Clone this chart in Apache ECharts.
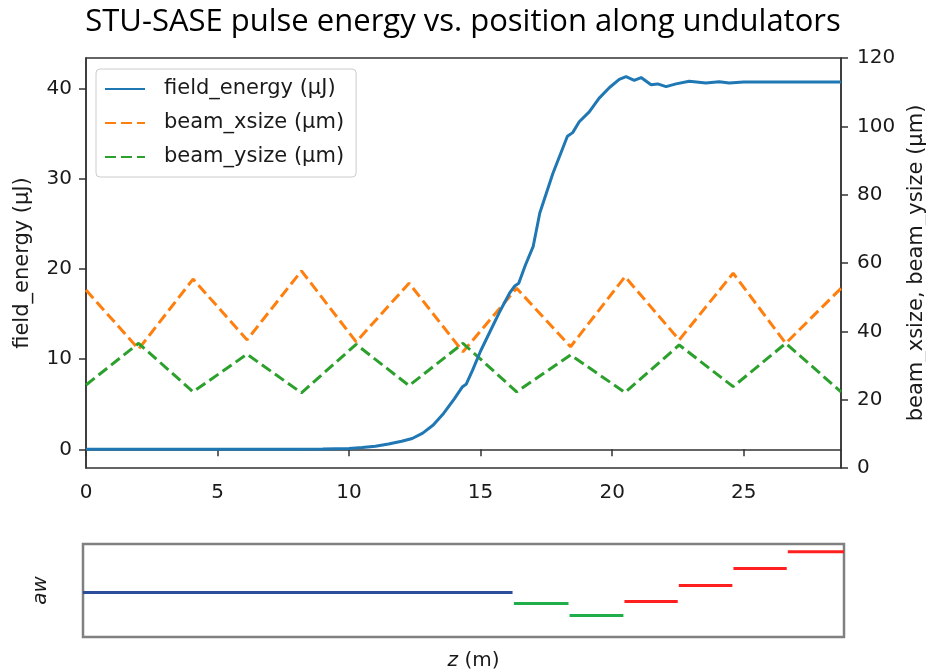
<!DOCTYPE html>
<html>
<head>
<meta charset="utf-8">
<script src="https://cdn.jsdelivr.net/npm/echarts@6/dist/echarts.min.js"></script>
<style>
  html, body { margin: 0; padding: 0; background: #ffffff; }
  #chart { width: 926px; height: 672px; }
</style>
</head>
<body>
<div id="chart"></div>
<script>
// Pulse energy along the undulator line (z in m, energy in µJ)
const energyZ = [0, 2, 4, 6, 8, 9, 10, 10.5, 11, 11.5, 12, 12.4, 12.8, 13.2, 13.6, 14.0, 14.3, 14.45,
  14.7, 15.0, 15.35, 15.7, 16.1, 16.3, 16.45, 16.7, 17.0, 17.25, 17.75, 18.3, 18.5, 18.75, 19.13,
  19.5, 19.9, 20.27, 20.53, 20.84, 21.1, 21.48, 21.73, 22.05, 22.43, 22.93, 23.56, 24.07, 24.45,
  25.0, 26.0, 27.0, 28.7];
const fieldEnergy = [0, 0, 0, 0, 0.01, 0.03, 0.1, 0.2, 0.35, 0.6, 0.9, 1.2, 1.8, 2.7, 4.0, 5.6, 6.9, 7.2,
  8.8, 10.9, 13.0, 15.1, 17.3, 18.1, 18.4, 20.4, 22.5, 26.2, 30.6, 34.7, 35.1, 36.3, 37.4,
  38.9, 40.1, 41.0, 41.3, 40.9, 41.2, 40.4, 40.5, 40.2, 40.5, 40.8, 40.6, 40.75, 40.6,
  40.7, 40.7, 40.7, 40.7];

// Beam sizes at the quadrupole positions (µm)
const quadZ = [0, 2.0, 4.07, 6.12, 8.19, 10.27, 12.28, 14.33, 16.37, 18.42, 20.49, 22.55, 24.6, 26.6, 28.7];
const beamXsize = [52.1, 34.8, 55.3, 37.5, 57.7, 36.9, 54.1, 34.0, 52.6, 35.5, 56.0, 37.5, 57.0, 36.5, 52.6];
const beamYsize = [24.3, 36.5, 22.3, 33.3, 22.0, 36.2, 24.1, 36.5, 22.3, 33.1, 22.1, 36.0, 23.8, 36.5, 22.3];

// Undulator parameter aw per section
const awStart = [0, 16.25, 18.35, 20.42, 22.47, 24.53, 26.58];
const awEnd = [16.2, 18.31, 20.38, 22.43, 24.49, 26.54, 28.7];
const awValue = [1.0, 0.989, 0.977, 0.991, 1.007, 1.024, 1.041];
const awKind = ['blue', 'green', 'green', 'red', 'red', 'red', 'red'];

// Axis ticks
const zTicks = [0, 5, 10, 15, 20, 25];
const energyTicks = [0, 10, 20, 30, 40];
const sizeTicks = [0, 20, 40, 60, 80, 100, 120];

const seriesNames = ['field_energy (µJ)', 'beam_xsize (µm)', 'beam_ysize (µm)'];

const kindColor = { blue: '#2c4d9c', green: '#1fae4a', red: '#ff1f1f' };
const FONT = 'DejaVu Sans';
const TEXT = '#1a1a1a';
const SPINE = '#333333';

const pairs = (xs, ys) => xs.map((x, i) => [x, ys[i]]);

const chart = echarts.init(document.getElementById('chart'), null, { renderer: 'canvas' });

const awSeries = awStart.map((s, i) => ({
  type: 'line',
  xAxisIndex: 1,
  yAxisIndex: 2,
  data: [[s, awValue[i]], [awEnd[i], awValue[i]]],
  symbol: 'none',
  silent: true,
  lineStyle: { width: 3, color: kindColor[awKind[i]] },
  z: 3
}));

chart.setOption({
  animation: false,
  backgroundColor: '#ffffff',
  title: {
    text: 'STU-SASE pulse energy vs. position along undulators',
    left: 'center',
    top: 2,
    textStyle: { fontFamily: 'Open Sans', fontSize: 31, fontWeight: 'normal', color: '#000000' }
  },
  legend: {
    data: seriesNames,
    orient: 'vertical',
    left: 96,
    top: 69,
    padding: [8, 12, 8, 8],
    itemWidth: 40,
    itemHeight: 2,
    itemGap: 10,
    backgroundColor: '#ffffff',
    borderColor: '#cccccc',
    borderWidth: 1,
    borderRadius: 4,
    textStyle: { fontFamily: FONT, fontSize: 21, color: TEXT, lineHeight: 24, padding: [0, 0, 0, 14] }
  },
  grid: [
    { left: 86, right: 85, top: 58, height: 410, show: true, borderColor: SPINE, borderWidth: 1.5,
      containLabel: false, outerBoundsMode: 'none' },
    { left: 83, right: 82, top: 544, height: 93, show: true, borderColor: '#808080', borderWidth: 2.5,
      containLabel: false, outerBoundsMode: 'none' }
  ],
  xAxis: [
    {
      type: 'value', gridIndex: 0, min: 0, max: 28.7,
      axisLine: { show: true, lineStyle: { color: SPINE, width: 1.5 } },
      axisTick: { show: true, length: 7, lineStyle: { color: SPINE, width: 1.5 }, customValues: zTicks },
      axisLabel: { fontFamily: FONT, fontSize: 20, color: TEXT, margin: 15, customValues: zTicks },
      splitLine: { show: false }
    },
    {
      type: 'value', gridIndex: 1, min: 0, max: 28.7,
      axisLine: { show: false }, axisTick: { show: false }, axisLabel: { show: false },
      splitLine: { show: false },
      name: '{i|z} (m)',
      nameLocation: 'middle',
      nameGap: 14,
      nameTextStyle: {
        fontFamily: FONT, fontSize: 20, color: TEXT, padding: [0, 0, 0, 20],
        verticalAlign: 'top',
        rich: { i: { fontFamily: FONT, fontSize: 20, fontStyle: 'italic', color: TEXT } }
      }
    }
  ],
  yAxis: [
    {
      type: 'value', gridIndex: 0, position: 'left', min: -2.07, max: 43.37,
      axisLine: { show: true, lineStyle: { color: SPINE, width: 1.5 } },
      axisTick: { show: true, length: 7, lineStyle: { color: SPINE, width: 1.5 }, customValues: energyTicks },
      axisLabel: { fontFamily: FONT, fontSize: 20, color: TEXT, margin: 14, customValues: energyTicks },
      splitLine: { show: false },
      name: 'field_energy (µJ)',
      nameLocation: 'middle',
      nameRotate: 90,
      nameGap: 53,
      nameTextStyle: { fontFamily: FONT, fontSize: 21, color: TEXT }
    },
    {
      type: 'value', gridIndex: 0, position: 'right', min: 0, max: 120, interval: 20,
      axisLine: { show: true, lineStyle: { color: SPINE, width: 1.5 } },
      axisTick: { show: true, length: 7, lineStyle: { color: SPINE, width: 1.5 }, customValues: sizeTicks },
      axisLabel: { fontFamily: FONT, fontSize: 20, color: TEXT, margin: 16, customValues: sizeTicks },
      splitLine: { show: false },
      name: 'beam_xsize, beam_ysize (µm)',
      nameLocation: 'middle',
      nameRotate: 90,
      nameGap: 63,
      nameTextStyle: { fontFamily: FONT, fontSize: 21, color: TEXT }
    },
    {
      type: 'value', gridIndex: 1, min: 0.9554, max: 1.0487,
      axisLine: { show: false }, axisTick: { show: false }, axisLabel: { show: false },
      splitLine: { show: false },
      name: 'aw',
      nameLocation: 'middle',
      nameRotate: 90,
      nameGap: 32,
      nameTextStyle: { fontFamily: FONT, fontSize: 20, fontStyle: 'italic', color: TEXT }
    }
  ],
  series: [
    {
      name: seriesNames[0], type: 'line', xAxisIndex: 0, yAxisIndex: 0,
      data: pairs(energyZ, fieldEnergy),
      symbol: 'none', showSymbol: false,
      lineStyle: { width: 3, color: '#1f77b4' },
      itemStyle: { color: '#1f77b4' },
      z: 4
    },
    {
      name: seriesNames[1], type: 'line', xAxisIndex: 0, yAxisIndex: 1,
      data: pairs(quadZ, beamXsize),
      symbol: 'none', showSymbol: false,
      lineStyle: { width: 3, color: '#ff7f0e', type: [11, 5] },
      itemStyle: { color: '#ff7f0e' },
      z: 3
    },
    {
      name: seriesNames[2], type: 'line', xAxisIndex: 0, yAxisIndex: 1,
      data: pairs(quadZ, beamYsize),
      symbol: 'none', showSymbol: false,
      lineStyle: { width: 3, color: '#2ca02c', type: [11, 5] },
      itemStyle: { color: '#2ca02c' },
      z: 3
    }
  ].concat(awSeries)
});
</script>
</body>
</html>
